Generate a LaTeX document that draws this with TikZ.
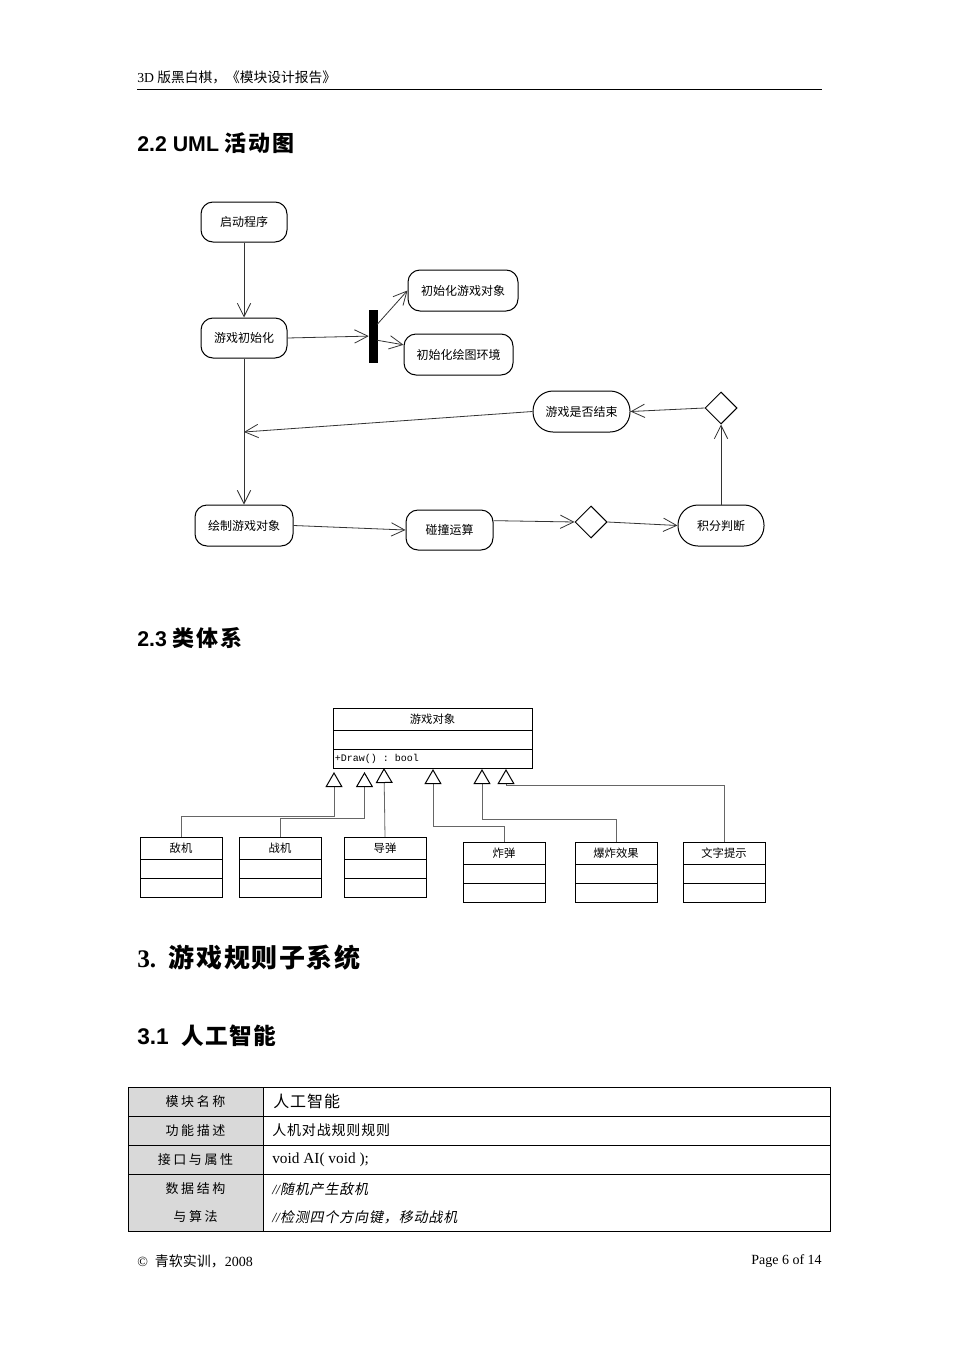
\documentclass[tikz,border=0pt]{standalone}
\usepackage{fontspec}
\setmainfont{Liberation Serif}
\setsansfont{Liberation Sans}
\setmonofont{Liberation Mono}
\newfontfamily\cjk{Noto Sans CJK SC}
\newfontfamily\cjksp{Noto Sans CJK SC}[LetterSpace=20]
\newfontfamily\cjkspb{Noto Sans CJK SC}[LetterSpace=6]
\newfontfamily\cjkhd{Noto Sans CJK SC}[LetterSpace=9]
\newfontfamily\cjkit{Noto Sans CJK SC}[FakeSlant=0.2,LetterSpace=6]
\usetikzlibrary{arrows.meta,shapes.geometric}
\begin{document}
\begin{tikzpicture}[x=0.75pt,y=-0.75pt,
  act/.style={draw=black, line width=0.75pt, rounded corners=9pt, inner sep=0pt, fill=white,
    font=\cjk\fontsize{9}{11}\selectfont},
  decision/.style={diamond, draw=black, line width=0.75pt, inner sep=0pt, aspect=1,
    minimum width=24pt, minimum height=24pt},
  conn/.style={draw=black!80, line width=0.6pt, -{Straight Barb[length=10pt,width=10pt]}},
  cls/.style={draw=black, line width=0.75pt, inner sep=0pt, outer sep=0pt, minimum width=61.5pt, minimum height=16.5pt,
    font=\cjk\fontsize{8.5}{10}\selectfont},
  row/.style={draw=black, line width=0.75pt, inner sep=0pt, outer sep=0pt, minimum width=61.5pt, minimum height=14.25pt, anchor=north},
  gen/.style={draw=black!60, line width=0.6pt, -{Triangle[open,length=11.25pt,width=12.75pt,color=black,line width=0.75pt]}},
  h2/.style={anchor=west, inner sep=0pt, font=\sffamily\bfseries\fontsize{16}{20}\selectfont},
  tl/.style={draw=black, line width=0.75pt, fill=black!15, minimum width=101.25pt, inner sep=0pt,
    font=\cjksp\fontsize{9.75}{12}\selectfont},
  tr/.style={draw=black, line width=0.75pt, minimum width=425.25pt, inner sep=0pt},
  txt/.style={anchor=west, inner sep=0pt}
]
\useasboundingbox (0,0) rectangle (959,1356);
\fill[white] (0,0) rectangle (959,1356);

% header
\node[txt, font=\fontsize{10.3}{12}\selectfont] (hdr) at (137,77) {3D {\cjk 版黑白棋，《模块设计报告》}};
\draw[line width=0.75pt] (137,89) -- (822,89);

% headings
\node[h2] (h22) at (137,143) {2.2 UML {\cjkhd\fontsize{16.5}{20}\selectfont 活动图}};
\node[h2] (h23) at (137,638) {2.3 {\cjkhd\fontsize{16.5}{20}\selectfont 类体系}};
\node[txt, font=\bfseries\fontsize{19}{22}\selectfont] (h3) at (137,958) {3.\ \ {\cjkspb\fontsize{19.5}{22}\selectfont 游戏规则子系统}};
\node[h2, font=\sffamily\bfseries\fontsize{17}{20}\selectfont] (h31) at (137,1036) {3.1\ \ {\cjkspb 人工智能}};

% activity diagram
\node[act, minimum width=64.5pt, minimum height=30pt] (start) at (244,222) {启动程序};
\node[act, minimum width=64.5pt, minimum height=30pt] (init) at (244,338) {游戏初始化};
\node[draw, fill=black, inner sep=0pt, minimum width=6pt, minimum height=39pt] (bar) at (373,336) {};
\node[act, minimum width=82.5pt, minimum height=30.75pt] (initobj) at (463,290.5) {初始化游戏对象};
\node[act, minimum width=81.75pt, minimum height=30.75pt] (initgfx) at (458.5,354.5) {初始化绘图环境};
\node[act, rounded corners=15pt, minimum width=72.75pt, minimum height=30.75pt] (isend) at (581.5,411.5) {游戏是否结束};
\node[decision] (d1) at (721,408) {};
\node[act, minimum width=73.5pt, minimum height=30.75pt] (drawobj) at (244,525.5) {绘制游戏对象};
\node[act, minimum width=65.25pt, minimum height=30pt] (collide) at (449.5,530) {碰撞运算};
\node[decision] (d2) at (591,522) {};
\node[act, rounded corners=15pt, minimum width=64.5pt, minimum height=30.75pt] (score) at (721,525.5) {积分判断};
\coordinate (j) at (244,432);

\draw[conn] (start) -- (init);
\draw[conn] (init.east) -- (bar);
\draw[conn] (bar.70) -- (initobj.west);
\draw[conn] (bar.-45) -- (initgfx.170);
\draw[conn] (init) -- (drawobj);
\draw[conn] (isend.west) -- (j);
\draw[conn] (d1.west) -- (isend.east);
\draw[conn] (score) -- (d1);
\draw[conn] (drawobj.east) -- (collide.west);
\draw[conn] (collide.12) -- (d2.west);
\draw[conn] (d2.east) -- (score.west);

% class diagram
\node[cls, minimum width=149.25pt] (obj) at (432.5,719) {游戏对象};
\node[row, minimum width=149.25pt] (obj2) at (obj.south) {};
\node[row, minimum width=149.25pt] (obj3) at (obj2.south) {};
\node[txt, font=\ttfamily\fontsize{7.5}{9}\selectfont] (op) at ([xshift=1.2pt]obj3.west) {+Draw() : bool};

\node[cls] (enemy) at (181,848) {敌机};
\node[row] (enemy2) at (enemy.south) {};
\node[row] (enemy3) at (enemy2.south) {};
\node[cls] (fighter) at (280,848) {战机};
\node[row] (fighter2) at (fighter.south) {};
\node[row] (fighter3) at (fighter2.south) {};
\node[cls] (missile) at (385,848) {导弹};
\node[row] (missile2) at (missile.south) {};
\node[row] (missile3) at (missile2.south) {};
\node[cls] (bomb) at (504,853) {炸弹};
\node[row] (bomb2) at (bomb.south) {};
\node[row] (bomb3) at (bomb2.south) {};
\node[cls] (explode) at (616,853) {爆炸效果};
\node[row] (explode2) at (explode.south) {};
\node[row] (explode3) at (explode2.south) {};
\node[cls] (hint) at (724,853) {文字提示};
\node[row] (hint2) at (hint.south) {};
\node[row] (hint3) at (hint2.south) {};

\coordinate (a1) at (334,772);
\coordinate (a2) at (364.5,772);
\coordinate (a3) at (384,768);
\coordinate (a4) at (433,769);
\coordinate (a5) at (482,769);
\coordinate (a6) at (506,769);
\coordinate (b6) at (506,785);

\draw[gen] (enemy.north) -- ++(0,-21) -| (a1);
\draw[gen] (fighter.north) -- ++(0,-19) -| (a2);
\draw[gen] (missile.north) -- (a3);
\draw[gen] (bomb.north) -- ++(0,-16) -| (a4);
\draw[gen] (explode.north) -- ++(0,-23) -| (a5);
\draw[gen] (hint.north) |- (b6) -- (a6);

% table
\node[tl, minimum height=21.75pt] (l1) at (195.5,1101.5) {模块名称};
\node[tr, minimum height=21.75pt] (r1) at (546.5,1101.5) {};
\node[tl, minimum height=21.75pt] (l2) at (195.5,1130.5) {功能描述};
\node[tr, minimum height=21.75pt] (r2) at (546.5,1130.5) {};
\node[tl, minimum height=21.75pt] (l3) at (195.5,1159.5) {接口与属性};
\node[tr, minimum height=21.75pt] (r3) at (546.5,1159.5) {};
\node[tl, minimum height=42.75pt, align=center, font=\cjksp\fontsize{9.75}{21}\selectfont] (l4) at (195.5,1202.5) {数据结构\\与算法};
\node[tr, minimum height=42.75pt] (r4) at (546.5,1202.5) {};

\node[txt, font=\cjkspb\fontsize{12}{14}\selectfont] (t1) at (273,1101.5) {人工智能};
\node[txt, font=\cjkspb\fontsize{10.5}{12}\selectfont] (t2) at (272,1130.5) {人机对战规则规则};
\node[txt, font=\fontsize{11.5}{13}\selectfont] (t3) at (272,1159.5) {void AI( void );};
\node[txt, font=\fontsize{10.5}{12}\selectfont] (t4) at (272,1189) {\itshape //{\cjkit 随机产生敌机}};
\node[txt, font=\fontsize{10.5}{12}\selectfont] (t5) at (272,1217) {\itshape //{\cjkit 检测四个方向键，移动战机}};

% footer
\node[txt, font=\fontsize{10.5}{12}\selectfont] (ftl) at (137,1261) {©\ \ {\cjk 青软实训，}2008};
\node[anchor=east, inner sep=0pt, font=\fontsize{10.5}{12}\selectfont] (ftr) at (822,1261) {Page 6 of 14};
\end{tikzpicture}
\end{document}
